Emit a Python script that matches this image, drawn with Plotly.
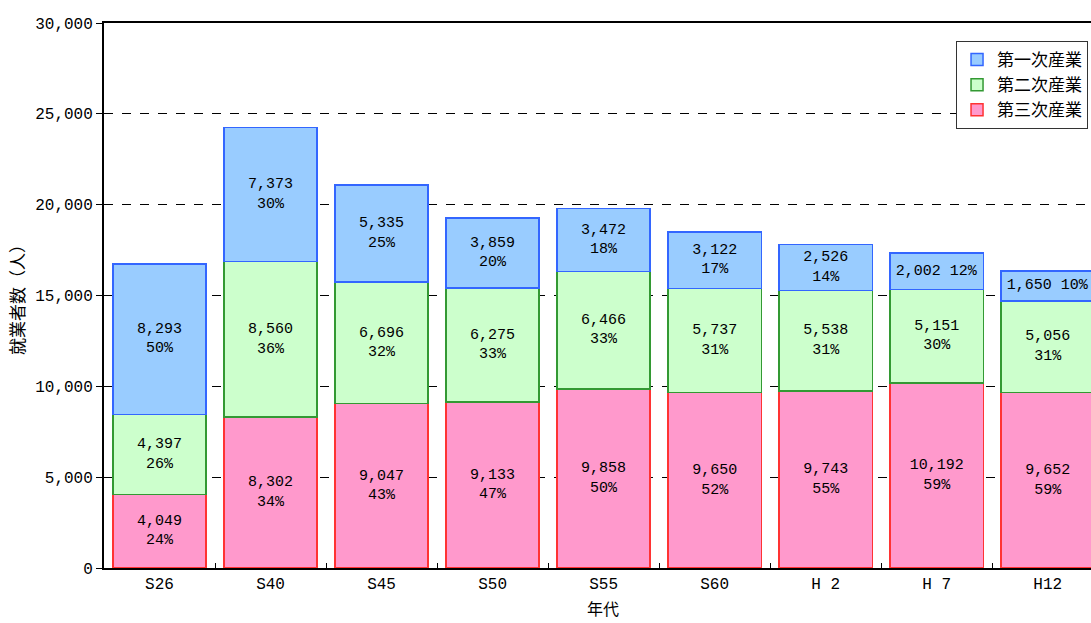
import plotly.graph_objects as go

categories = ["S26", "S40", "S45", "S50", "S55", "S60", "H 2", "H 7", "H12"]
tertiary = [4049, 8302, 9047, 9133, 9858, 9650, 9743, 10192, 9652]
secondary = [4397, 8560, 6696, 6275, 6466, 5737, 5538, 5151, 5056]
primary = [8293, 7373, 5335, 3859, 3472, 3122, 2526, 2002, 1650]
tertiary_pct = [24, 34, 43, 47, 50, 52, 55, 59, 59]
secondary_pct = [26, 36, 32, 33, 33, 31, 31, 30, 31]
primary_pct = [50, 30, 25, 20, 18, 17, 14, 12, 10]

NUM_FONT = "Liberation Mono, Noto Sans CJK JP, monospace"
JP_FONT = "Noto Sans CJK JP, sans-serif"


def labels(vals, pcts, oneline_below=2100):
    out = []
    for v, p in zip(vals, pcts):
        sep = " " if v < oneline_below else "<br>"
        out.append(f"{v:,}{sep}{p}%")
    return out


series = [
    ("第三次産業", tertiary, tertiary_pct, "#FF99CC", "#FF3333", 3),
    ("第二次産業", secondary, secondary_pct, "#CCFFCC", "#339933", 2),
    ("第一次産業", primary, primary_pct, "#99CCFF", "#3366FF", 1),
]

fig = go.Figure()
for name, vals, pcts, fill, line, rank in series:
    fig.add_trace(go.Bar(
        x=categories, y=vals, name=name, legendrank=rank,
        marker=dict(color=fill, line=dict(color=line, width=1.5)),
        text=labels(vals, pcts), textposition="inside",
        insidetextanchor="middle", textangle=0,
        textfont=dict(family=NUM_FONT, size=15, color="#000000"),
        hoverinfo="skip",
    ))

fig.update_layout(
    barmode="stack", bargap=0.16,
    width=1091, height=623,
    margin=dict(l=104, r=0, t=23, b=55, autoexpand=False),
    paper_bgcolor="white", plot_bgcolor="white",
    uniformtext=dict(minsize=15, mode="show"),
    showlegend=True,
    legend=dict(
        x=0.997, xanchor="right", y=0.967, yanchor="top",
        traceorder="normal",
        bgcolor="white", bordercolor="#333333", borderwidth=1,
        font=dict(family=JP_FONT, size=17, color="#000000"),
        itemwidth=30,
    ),
    xaxis=dict(
        range=[-0.5, 8.39], automargin=False,
        showline=True, linecolor="black", linewidth=2, mirror=True,
        ticks="inside", tickson="boundaries", ticklen=5, tickcolor="black",
        showgrid=False,
        tickfont=dict(family=NUM_FONT, size=16, color="#000000"),
    ),
    yaxis=dict(
        range=[0, 30000], dtick=5000, tickformat=",", automargin=False,
        showline=True, linecolor="black", linewidth=2,
        ticks="outside", ticklen=6, tickcolor="black",
        showgrid=True, gridcolor="#000000", griddash="dash", gridwidth=1,
        zeroline=False,
        tickfont=dict(family=NUM_FONT, size=16, color="#000000"),
        title=dict(text="就業者数（人）", standoff=6,
                   font=dict(family=JP_FONT, size=17, color="#000000")),
    ),
    annotations=[dict(
        text="年代", xref="paper", yref="paper",
        x=(603 - 104) / 987, y=-0.047, xanchor="center", yanchor="top",
        showarrow=False, font=dict(family=JP_FONT, size=16, color="#000000"),
    )],
)

fig.write_html("out.html", config={"displayModeBar": False},
               post_script="document.body.style.margin='0';document.body.style.overflow='hidden';")
